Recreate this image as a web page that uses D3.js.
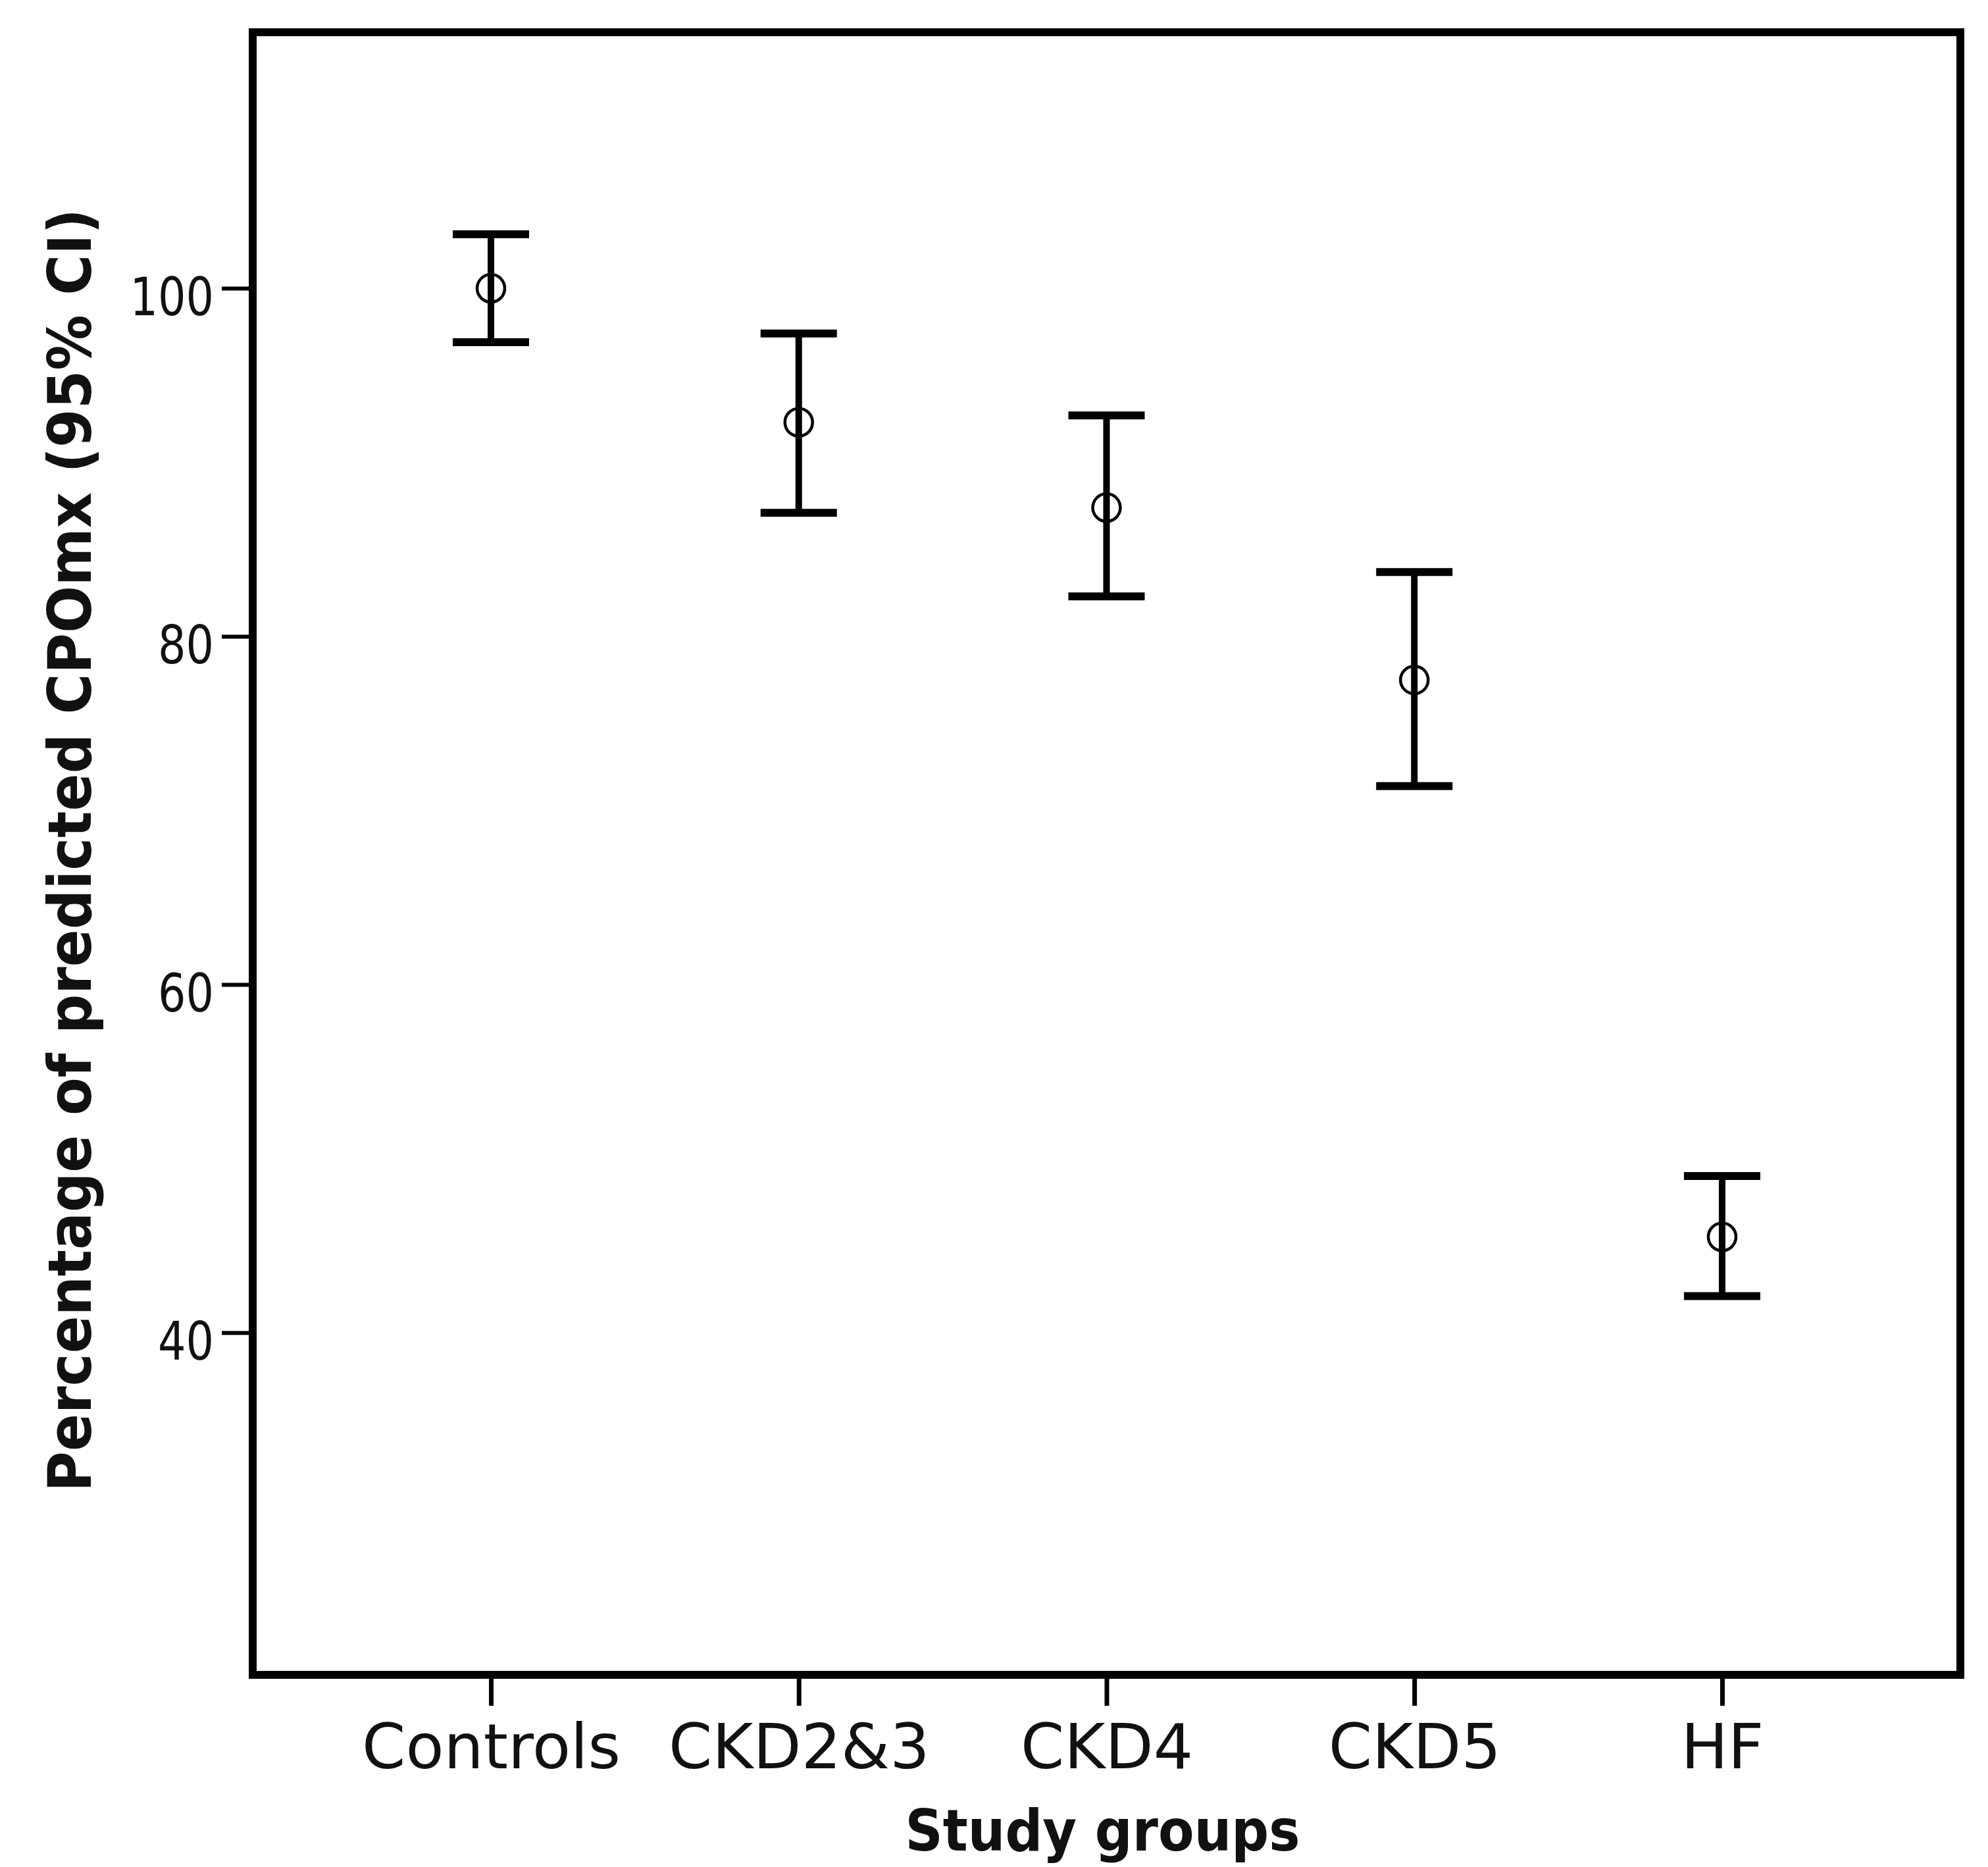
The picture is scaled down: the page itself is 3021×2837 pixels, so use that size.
<!DOCTYPE html>
<html>
<head>
<meta charset="utf-8">
<script src="https://cdn.jsdelivr.net/npm/d3@7"></script>
<style>
    body { margin: 0; background: #fff; }
    svg { display: block; }
</style>
</head>
<body>
<div id="container"></div>
<script>
const groups = ['Controls', 'CKD2&3', 'CKD4', 'CKD5', 'HF'];
const means = [100.0, 92.3, 87.4, 77.5, 45.5];
const lower = [96.9, 87.1, 82.3, 71.4, 42.1];
const upper = [103.1, 97.4, 92.7, 83.7, 49.0];
const yTicks = [40, 60, 80, 100];
const yDomain = [20.34, 114.71];

const width = 3021;
const height = 2837;

const frame = { left: 384, right: 2979, top: 49, bottom: 2545 };

const x = d3.scalePoint()
    .domain(groups)
    .range([frame.left, frame.right])
    .padding(0.774);

const y = d3.scaleLinear()
    .domain(yDomain)
    .range([frame.bottom, frame.top]);

const svg = d3.select('#container').append('svg')
    .attr('width', width)
    .attr('height', height)
    .style('background', '#fff');

// y axis
const yAxis = svg.append('g')
    .attr('transform', `translate(${frame.left} 0)`)
    .call(d3.axisLeft(y).tickValues(yTicks).tickSize(47).tickPadding(12).tickFormat(d3.format('d')));

yAxis.select('.domain').remove();
yAxis.selectAll('line').attr('stroke', '#000').attr('stroke-width', 6);
yAxis.selectAll('text')
    .attr('dy', '0.5em')
    .style('font-family', '"DejaVu Sans", sans-serif')
    .style('font-size', '80px')
    .style('fill', '#111')
    .attr('textLength', (d) => String(d).length * 42.5)
    .attr('lengthAdjust', 'spacingAndGlyphs');

// x axis
const xAxis = svg.append('g')
    .attr('transform', `translate(0 ${frame.bottom})`)
    .call(d3.axisBottom(x).tickSize(47));

xAxis.select('.domain').remove();
xAxis.selectAll('line').attr('stroke', '#000').attr('stroke-width', 7);
xAxis.selectAll('text')
    .attr('y', 142)
    .attr('dy', 0)
    .style('font-family', '"DejaVu Sans", sans-serif')
    .style('font-size', '95px')
    .style('fill', '#111');

// frame
svg.append('rect')
    .attr('x', frame.left)
    .attr('y', frame.top)
    .attr('width', frame.right - frame.left)
    .attr('height', frame.bottom - frame.top)
    .style('fill', 'none')
    .style('stroke', '#000')
    .style('stroke-width', 12);

// error bars
const data = groups.map((g, i) => ({ group: g, mean: means[i], lo: lower[i], hi: upper[i] }));
const capHalf = 58;

const bars = svg.append('g').selectAll('g').data(data).enter().append('g')
    .attr('transform', (d) => `translate(${x(d.group)} 0)`);

bars.append('line')
    .attr('y1', (d) => y(d.hi))
    .attr('y2', (d) => y(d.lo))
    .style('stroke', '#000')
    .style('stroke-width', 10);

bars.selectAll('.cap').data((d) => [d.hi, d.lo]).enter().append('line')
    .attr('class', 'cap')
    .attr('x1', -capHalf)
    .attr('x2', capHalf)
    .attr('y1', (v) => y(v))
    .attr('y2', (v) => y(v))
    .style('stroke', '#000')
    .style('stroke-width', 12);

bars.append('circle')
    .attr('cy', (d) => y(d.mean))
    .attr('r', 21)
    .style('fill', 'none')
    .style('stroke', '#000')
    .style('stroke-width', 4.5);

// axis titles
svg.append('text')
    .attr('transform', `translate(138 ${(frame.top + frame.bottom) / 2 - 5}) rotate(-90)`)
    .attr('text-anchor', 'middle')
    .attr('textLength', 1950)
    .attr('lengthAdjust', 'spacingAndGlyphs')
    .style('font-family', '"DejaVu Sans", sans-serif')
    .style('font-weight', 'bold')
    .style('font-size', '90px')
    .style('fill', '#111')
    .text('Percentage of predicted CPOmx (95% CI)');

svg.append('text')
    .attr('x', (frame.left + frame.right) / 2 - 6)
    .attr('y', 2812)
    .attr('text-anchor', 'middle')
    .attr('textLength', 600)
    .attr('lengthAdjust', 'spacingAndGlyphs')
    .style('font-family', '"DejaVu Sans", sans-serif')
    .style('font-weight', 'bold')
    .style('font-size', '88px')
    .style('fill', '#111')
    .text('Study groups');
</script>
</body>
</html>
